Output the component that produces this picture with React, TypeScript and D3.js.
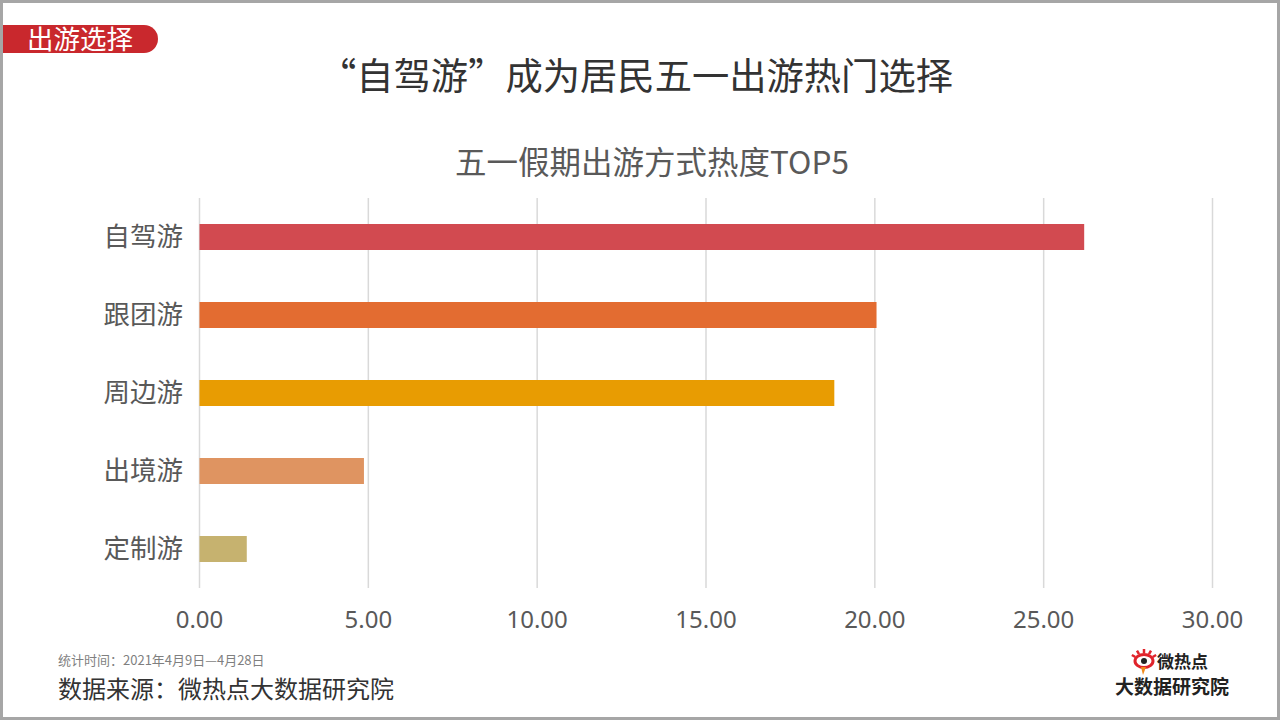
import React from "react";
import * as d3 from "d3";

const categories = ["自驾游", "跟团游", "周边游", "出境游", "定制游"];
const values = [26.2, 20.05, 18.8, 4.87, 1.4];
const barColors = ["#D24A50", "#E36C31", "#E89C02", "#DF9461", "#C6B26F"];
const xTicks = [0, 5, 10, 15, 20, 25, 30];

const W = 1280;
const H = 720;
const FONT = "'Noto Sans CJK SC', 'Microsoft YaHei', sans-serif";

export default function App() {
  const x = d3.scaleLinear().domain([0, 30]).range([199.5, 1212.5]);
  const y = d3
    .scaleBand<string>()
    .domain(categories)
    .range([198, 588])
    .paddingInner(2 / 3)
    .paddingOuter(1 / 3);

  return (
    <svg
      width={W}
      height={H}
      style={{ position: "absolute", left: 0, top: 0, background: "#fff" }}
      fontFamily={FONT}
    >
      <rect x={0} y={0} width={W} height={H} fill="#fff" />
      {/* frame */}
      <rect x={1.5} y={1.5} width={W - 3} height={H - 3} fill="none" stroke="#A6A6A6" strokeWidth={3} />

      {/* tag */}
      <path d="M3,25 H144 A14,14 0 0 1 144,53 H3 Z" fill="#C9282D" />
      <text x={80} y={49} textAnchor="middle" fill="#fff" fontSize={26.5}>
        出游选择
      </text>

      {/* title */}
      <text x={636} y={90} textAnchor="middle" fill="#333" fontSize={37.3}>
        “自驾游”成为居民五一出游热门选择
      </text>
      <text x={652} y={174} textAnchor="middle" fill="#595959" fontSize={31.5}>
        五一假期出游方式热度TOP5
      </text>

      {/* grid */}
      {xTicks.map((t) => (
        <line key={t} x1={x(t)} x2={x(t)} y1={198} y2={588} stroke="#D9D9D9" strokeWidth={1.5} />
      ))}

      {/* bars */}
      {categories.map((c, i) => (
        <rect
          key={c}
          x={x(0)}
          y={y(c)!}
          width={x(values[i]) - x(0)}
          height={y.bandwidth()}
          fill={barColors[i]}
        />
      ))}

      {/* category labels */}
      {categories.map((c) => (
        <text
          key={c}
          x={183}
          y={y(c)! + y.bandwidth() / 2}
          dy="0.35em"
          textAnchor="end"
          fill="#595959"
          fontSize={26.5}
        >
          {c}
        </text>
      ))}

      {/* tick labels */}
      {xTicks.map((t) => (
        <text
          key={t}
          x={x(t)}
          y={628}
          textAnchor="middle"
          fill="#595959"
          fontSize={24}
          fontFamily="'Noto Sans', 'DejaVu Sans', sans-serif"
        >
          {d3.format(".2f")(t)}
        </text>
      ))}

      {/* footer */}
      <text x={58} y={665} fill="#7F7F7F" fontSize={13}>
        统计时间：2021年4月9日—4月28日
      </text>
      <text x={58} y={698} fill="#333" fontSize={24}>
        数据来源：微热点大数据研究院
      </text>

      {/* logo */}
      <g>
        <ellipse cx={1144} cy={661} rx={9} ry={6.5} fill="#fff" stroke="#E0242B" strokeWidth={3} />
        <circle cx={1144} cy={661} r={3} fill="#222" />
        {[-60, -30, 0, 30, 60].map((a) => (
          <line
            key={a}
            x1={1144 + Math.sin((a * Math.PI) / 180) * 10}
            y1={661 - Math.cos((a * Math.PI) / 180) * 8}
            x2={1144 + Math.sin((a * Math.PI) / 180) * 14}
            y2={661 - Math.cos((a * Math.PI) / 180) * 12}
            stroke="#E0242B"
            strokeWidth={2.5}
          />
        ))}
        <path d="M1141,667 L1143,675 L1146,667 Z" fill="#F08A1C" />
        <text x={1157} y={668} fill="#222" fontSize={17} fontWeight="bold">
          微热点
        </text>
        <text x={1115} y={694} fill="#222" fontSize={19} fontWeight="bold">
          大数据研究院
        </text>
      </g>
    </svg>
  );
}
